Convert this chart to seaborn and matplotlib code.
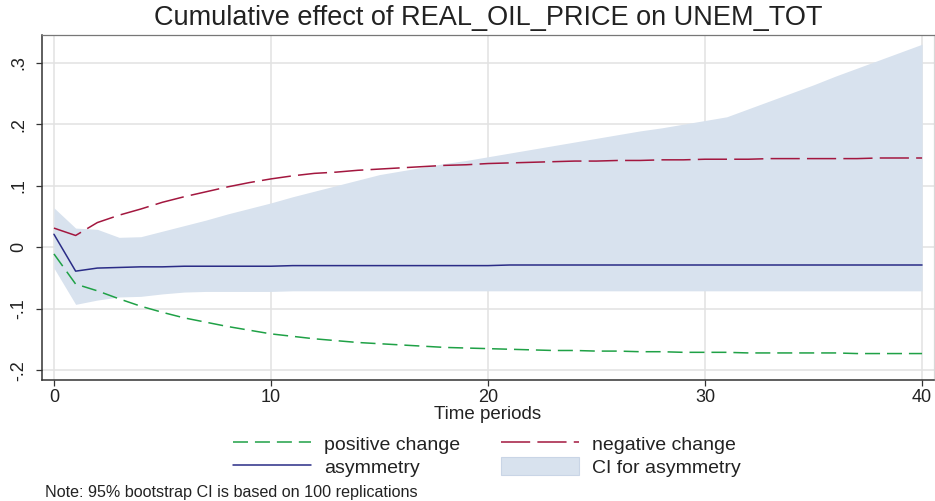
import numpy as np
import pandas as pd
import matplotlib
matplotlib.use("Agg")
import matplotlib.pyplot as plt
from matplotlib.lines import Line2D
from matplotlib.patches import Patch
import seaborn as sns

# Cumulative dynamic multipliers, horizon 0..40
periods = list(range(41))

positive_change = [-0.011, -0.060, -0.071, -0.084, -0.096, -0.106, -0.115, -0.122, -0.129, -0.135,
                   -0.141, -0.145, -0.149, -0.152, -0.155, -0.157, -0.159, -0.161, -0.163, -0.164,
                   -0.165, -0.166, -0.167, -0.168, -0.168, -0.169, -0.169, -0.170, -0.170, -0.171,
                   -0.171, -0.171, -0.172, -0.172, -0.172, -0.172, -0.172, -0.173, -0.173, -0.173,
                   -0.173]

negative_change = [0.031, 0.019, 0.040, 0.052, 0.062, 0.073, 0.082, 0.090, 0.098, 0.105,
                   0.111, 0.116, 0.120, 0.122, 0.125, 0.127, 0.129, 0.131, 0.133, 0.134,
                   0.136, 0.137, 0.138, 0.139, 0.140, 0.140, 0.141, 0.141, 0.142, 0.142,
                   0.143, 0.143, 0.143, 0.144, 0.144, 0.144, 0.144, 0.144, 0.145, 0.145,
                   0.145]

asymmetry = [0.021, -0.039, -0.034, -0.033, -0.032, -0.032, -0.031, -0.031, -0.031, -0.031,
             -0.031, -0.030, -0.030, -0.030, -0.030, -0.030, -0.030, -0.030, -0.030, -0.030,
             -0.030, -0.029, -0.029, -0.029, -0.029, -0.029, -0.029, -0.029, -0.029, -0.029,
             -0.029, -0.029, -0.029, -0.029, -0.029, -0.029, -0.029, -0.029, -0.029, -0.029,
             -0.029]

ci_upper = [0.064, 0.031, 0.029, 0.016, 0.017, 0.026, 0.035, 0.044, 0.054, 0.063,
            0.072, 0.082, 0.091, 0.100, 0.109, 0.118, 0.124, 0.130, 0.136, 0.141,
            0.147, 0.153, 0.159, 0.165, 0.171, 0.177, 0.183, 0.189, 0.194, 0.200,
            0.206, 0.212, 0.225, 0.238, 0.251, 0.264, 0.278, 0.291, 0.304, 0.317,
            0.330]

ci_lower = [-0.034, -0.093, -0.086, -0.081, -0.080, -0.076, -0.073, -0.072, -0.072, -0.072,
            -0.072, -0.071, -0.071, -0.071, -0.071, -0.071, -0.071, -0.071, -0.071, -0.071,
            -0.071, -0.071, -0.071, -0.071, -0.071, -0.071, -0.071, -0.071, -0.071, -0.071,
            -0.071, -0.071, -0.071, -0.071, -0.071, -0.071, -0.071, -0.071, -0.071, -0.071,
            -0.071]

x_ticks = [0, 10, 20, 30, 40]
y_ticks = [-0.2, -0.1, 0.0, 0.1, 0.2, 0.3]
y_tick_labels = ["-.2", "-.1", "0", ".1", ".2", ".3"]

df = pd.DataFrame({
    "period": periods,
    "positive": positive_change,
    "negative": negative_change,
    "asymmetry": asymmetry,
    "lo": ci_lower,
    "hi": ci_upper,
})

sns.set_theme(style="white")
plt.rcParams["font.family"] = ["Liberation Sans", "DejaVu Sans"]

GREEN = "#1fa146"
RED = "#a3173f"
NAVY = "#2a2c86"
BAND = "#d8e2ee"
GRID = "#e2e2e2"
TXT = "#222222"

LW = 1.1
green_ls = (0, (10.8 / LW, 5.0 / LW))
red_ls = (0, (21.0 / LW, 5.2 / LW))

fig = plt.figure(figsize=(9.35, 5.01), dpi=100)
ax = fig.add_axes([42 / 935, 1 - 380 / 501, (934 - 42) / 935, (380 - 35) / 501])

ax.fill_between(df["period"], df["lo"], df["hi"], color=BAND, linewidth=0, zorder=1)
sns.lineplot(data=df, x="period", y="positive", ax=ax, color=GREEN, lw=LW,
             linestyle=green_ls, zorder=3)
sns.lineplot(data=df, x="period", y="negative", ax=ax, color=RED, lw=LW,
             linestyle=red_ls, zorder=3)
sns.lineplot(data=df, x="period", y="asymmetry", ax=ax, color=NAVY, lw=LW, zorder=4)

ax.set_xlim(-0.55, 40.55)
ax.set_ylim(-0.216, 0.345)
ax.set_xticks(x_ticks)
ax.set_xticklabels([str(t) for t in x_ticks])
ax.set_yticks(y_ticks)
ax.set_yticklabels(y_tick_labels, rotation=90, va="center")

ax.grid(True, color=GRID, lw=1.1, zorder=0)
ax.set_axisbelow(True)

for side in ("left", "bottom"):
    ax.spines[side].set_color("#333333")
    ax.spines[side].set_linewidth(1.1)
ax.spines["top"].set_color("#777777")
ax.spines["top"].set_linewidth(0.9)
ax.spines["right"].set_color("#d8d8d8")
ax.spines["right"].set_linewidth(0.9)

ax.tick_params(axis="both", which="major", direction="out", length=4.5, width=0.9,
               color="#333333", labelcolor=TXT, labelsize=13)
ax.tick_params(axis="x", pad=2, bottom=True)
ax.tick_params(axis="y", pad=6, left=True)

ax.set_xlabel("Time periods", fontsize=13.5, color=TXT)
ax.xaxis.set_label_coords(0.5, -0.076)
ax.set_ylabel("")

ax.set_title("Cumulative effect of REAL_OIL_PRICE on UNEM_TOT", fontsize=19.5,
             color=TXT, pad=7)

handles = [
    Line2D([], [], color=GREEN, lw=LW, linestyle=green_ls),
    Line2D([], [], color=NAVY, lw=LW),
    Line2D([], [], color=RED, lw=LW, linestyle=red_ls),
    Patch(facecolor=BAND, edgecolor="#c9d5e6", linewidth=0.8),
]
labels = ["positive change", "asymmetry", "negative change", "CI for asymmetry"]
fig.legend(handles, labels, ncol=2, loc="center", bbox_to_anchor=(487 / 935, 1 - 455.5 / 501),
           frameon=False, fontsize=14, handlelength=4.0, handleheight=1.0,
           handletextpad=0.7, columnspacing=2.1, labelspacing=0.18,
           labelcolor=TXT)

fig.text(45 / 935, 1 - 493 / 501, "Note: 95% bootstrap CI is based on 100 replications",
         fontsize=11.6, color=TXT, va="center", ha="left")

fig.savefig("out.png", dpi=100)
